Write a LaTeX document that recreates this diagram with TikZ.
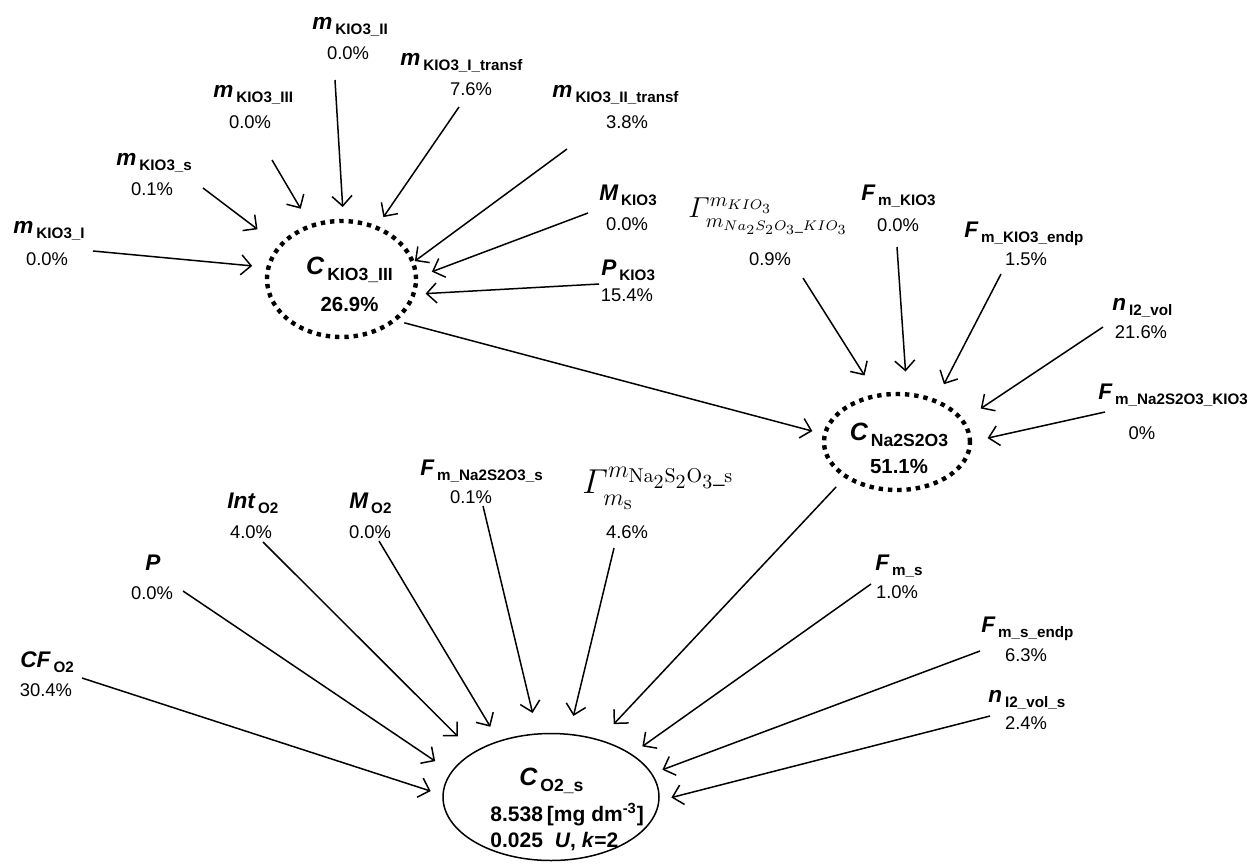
\documentclass[tikz,border=0pt]{standalone}
\usepackage{amsmath}
\usepackage[no-math]{fontspec}
\setmainfont{Liberation Sans}
\usetikzlibrary{arrows.meta}
\usetikzlibrary{shapes.geometric}
\def\vlab#1#2{{\fontsize{11.3}{13}\selectfont\bfseries\itshape #1}\hspace{1.5pt}\raisebox{-2.5pt}{\fontsize{7.6}{9}\selectfont\bfseries #2}}
\def\clab#1#2{{\fontsize{12.5}{14}\selectfont\bfseries\itshape #1}\hspace{1.5pt}\raisebox{-3pt}{\fontsize{8.8}{10}\selectfont\bfseries #2}}

\begin{document}
\begin{tikzpicture}[x=0.5pt,y=-0.5pt,>={Straight Barb[length=5pt,width=10pt]},
	ttl/.style={anchor=base west,inner sep=0pt},
	pct/.style={inner sep=0pt,font=\fontsize{9.2}{11}\selectfont},
	arr/.style={->,line width=0.75pt},
	est/.style={ellipse,draw=black,outer sep=0pt,inner sep=0pt},
	dots/.style={line width=2.2pt,dash pattern=on 2.2pt off 2.45pt},
	ctxt/.style={anchor=north,inner sep=0pt,align=center}]
	\useasboundingbox (0,0) rectangle (1248,863);

	\node [est,dots,minimum width=74.5pt,minimum height=58pt] at (341.5,279) (cK) {};
	\node [ctxt,font=\fontsize{10.2}{18.5}\selectfont\bfseries] at (349.5,257) (cKt) {\clab{C}{KIO3\_III}\\26.9\%};
	\node [est,dots,minimum width=73pt,minimum height=48pt] at (897,442) (cN) {};
	\node [ctxt,font=\fontsize{10.2}{16.5}\selectfont\bfseries] at (899,423) (cNt) {\clab{C}{Na2S2O3}\\51.1\%};
	\node [est,line width=0.75pt,minimum width=108pt,minimum height=63.5pt] at (551,797) (cO) {};
	\node [ctxt,anchor=north west,align=left,font=\fontsize{10.5}{13}\selectfont\bfseries] at (490,768) (cOt) {\hspace*{14.5pt}\clab{C}{O2\_s}\\[3.7pt]8.538\hspace{2pt}[mg dm\textsuperscript{-3}]\\0.025\hspace{6pt}\textit{U}, \textit{k}=2};

	\node [ttl] at (13,233) (mI) {\vlab{m}{KIO3\_I}};
	\node [pct] at (47,259) (mIp) {0.0\%};
	\node [ttl] at (116,165) (ms) {\vlab{m}{KIO3\_s}};
	\node [pct] at (152,189) (msp) {0.1\%};
	\node [ttl] at (213,97) (mIII) {\vlab{m}{KIO3\_III}};
	\node [pct] at (250,122) (mIIIp) {0.0\%};
	\node [ttl] at (312,29) (mII) {\vlab{m}{KIO3\_II}};
	\node [pct] at (348,53) (mIIp) {0.0\%};
	\node [ttl] at (400,65) (mIt) {\vlab{m}{KIO3\_I\_transf}};
	\node [pct] at (471,89) (mItp) {7.6\%};
	\node [ttl] at (552,97) (mIIt) {\vlab{m}{KIO3\_II\_transf}};
	\node [pct] at (627,122) (mIItp) {3.8\%};
	\node [ttl] at (599,200) (MK) {\vlab{M}{KIO3}};
	\node [pct] at (627,224) (MKp) {0.0\%};
	\node [ttl] at (601,275) (PK) {\vlab{P}{KIO3}};
	\node [pct] at (627,295) (PKp) {15.4\%};

	\node [ttl,font=\fontsize{14.4}{16}\selectfont] at (688,217) (GK) {$\varGamma^{m_{KIO_3}}_{\raisebox{-1.5pt}{$\scriptstyle m_{Na_2S_2O_3\_KIO_3}$}}$};
	\node [pct] at (770,259) (GKp) {0.9\%};
	\node [ttl] at (861,200) (FmK) {\vlab{F}{m\_KIO3}};
	\node [pct] at (898,225) (FmKp) {0.0\%};
	\node [ttl] at (964,237) (FmKe) {\vlab{F}{m\_KIO3\_endp}};
	\node [pct] at (1026,259) (FmKep) {1.5\%};
	\node [ttl] at (1112,310) (nI) {\vlab{n}{I2\_vol}};
	\node [pct] at (1141,332) (nIp) {21.6\%};
	\node [ttl] at (1098,399) (FmNK) {\vlab{F}{m\_Na2S2O3\_KIO3}};
	\node [pct] at (1142,433) (FmNKp) {0\%};

	\node [ttl] at (20,667) (CF) {\vlab{CF}{O2}};
	\node [pct] at (46,690) (CFp) {30.4\%};
	\node [ttl] at (145,570) (P) {\vlab{P}{}};
	\node [pct] at (152,593) (Pp) {0.0\%};
	\node [ttl] at (227,508) (Int) {\vlab{Int}{O2}};
	\node [pct] at (251,532) (Intp) {4.0\%};
	\node [ttl] at (349,508) (MO) {\vlab{M}{O2}};
	\node [pct] at (370,532) (MOp) {0.0\%};
	\node [ttl] at (420,475) (FmNs) {\vlab{F}{m\_Na2S2O3\_s}};
	\node [pct] at (471,497) (FmNsp) {0.1\%};
	\node [ttl,font=\fontsize{17.28}{19}\selectfont] at (582,493) (GO) {$\varGamma^{\raisebox{1.5pt}{$\scriptstyle m_{\mathrm{Na}_2\mathrm{S}_2\mathrm{O}_3\_\mathrm{s}}$}}_{\raisebox{-2pt}{$\scriptstyle m_{\mathrm{s}}$}}$};
	\node [pct] at (627,532) (GOp) {4.6\%};
	\node [ttl] at (875,570) (Fms) {\vlab{F}{m\_s}};
	\node [pct] at (897,592) (Fmsp) {1.0\%};
	\node [ttl] at (981,632) (Fmse) {\vlab{F}{m\_s\_endp}};
	\node [pct] at (1026,655) (Fmsep) {6.3\%};
	\node [ttl] at (988,702) (nIs) {\vlab{n}{I2\_vol\_s}};
	\node [pct] at (1026,723) (nIsp) {2.4\%};

	\draw [arr,shorten >=8.2pt] ([shift={(46,-8)}]mIp.center) -- (cK.171.7);
	\draw [arr,shorten >=14.1pt] ([shift={(51,-1)}]msp.center) -- (cK.152);
	\draw [arr,shorten >=10.1pt] ([shift={(22,38)}]mIIIp.center) -- (cK.120.7);
	\draw [arr,shorten >=7pt] ([shift={(-13,27)}]mIIp.center) -- (cK.88.8);
	\draw [arr,shorten >=6.4pt] ([shift={(-12,18)}]mItp.center) -- (cK.56.2);
	\draw [arr,shorten >=1.2pt] ([shift={(-60,27)}]mIItp.center) -- (cK.13.8);
	\draw [arr,shorten >=8.5pt] ([shift={(-39,-11)}]MKp.center) -- (cK.1.3);
	\draw [arr,shorten >=6.1pt] ([shift={(-28,-11)}]PKp.center) -- (cK.-12.8);
	\draw [arr,shorten <=5.3pt,shorten >=6.5pt] (cK.-38.4) -- (cN.174);

	\draw [arr,shorten >=12pt] ([shift={(33,19)}]GKp.center) -- (cN.113.8);
	\draw [arr,shorten >=11.5pt] ([shift={(-1,22)}]FmKp.center) -- (cN.78.7);
	\draw [arr,shorten >=9.5pt] ([shift={(-25,15)}]FmKep.center) -- (cN.47.2);
	\draw [arr,shorten >=11pt] ([shift={(-38,-5)}]nIp.center) -- (cN.18.6);
	\draw [arr,shorten >=9pt] ([shift={(-37,-21)}]FmNKp.center) -- (cN.0);
	\draw [arr,shorten <=7.2pt,shorten >=10.9pt] (cN.214.7) -- (cO.50.5);

	\draw [arr,shorten >=6.5pt] ([shift={(36,-12)}]CFp.center) -- (cO.179.1);
	\draw [arr,shorten >=9.9pt] ([shift={(31,-2)}]Pp.center) -- (cO.166.3);
	\draw [arr,shorten >=11.4pt] ([shift={(12,10)}]Intp.center) -- (cO.150.7);
	\draw [arr,shorten >=8.5pt] ([shift={(9,9)}]MOp.center) -- (cO.133.3);
	\draw [arr,shorten >=10.8pt] ([shift={(12,9)}]FmNsp.center) -- (cO.102.7);
	\draw [arr,shorten >=9.5pt] ([shift={(-13,16)}]GOp.center) -- (cO.74.8);
	\draw [arr,shorten >=6.9pt] ([shift={(-26,-8)}]Fmsp.center) -- (cO.28.8);
	\draw [arr,shorten >=5.8pt] ([shift={(-46,-4)}]Fmsep.center) -- (cO.13.7);
	\draw [arr,shorten >=6.5pt] ([shift={(-36,-7)}]nIsp.center) -- (cO.-2.8);
\end{tikzpicture}
\end{document}
